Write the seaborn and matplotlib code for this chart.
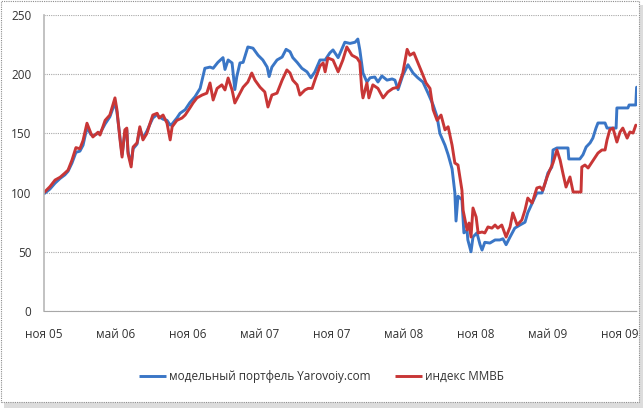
import matplotlib
matplotlib.use("Agg")
import matplotlib.pyplot as plt
from matplotlib.patches import Rectangle
from matplotlib.lines import Line2D
import pandas as pd
import seaborn as sns

# ---------------- data ----------------
start_date = "2005-11-01"

series_names = ["модельный портфель Yarovoiy.com", "индекс ММВБ"]

blue_days = [0, 15, 28, 41, 53, 61, 71, 81, 91, 99, 109, 119, 124, 137, 142, 155, 167, 180, 185, 193,
             198, 205, 210, 213, 221, 226, 236, 243, 251, 261, 269, 276, 287, 292, 302, 312, 320, 325,
             337, 345, 358, 370, 383, 396, 408, 421, 429, 441, 454, 459, 467, 477, 484, 489, 497, 505,
             517, 530, 543, 555, 566, 571, 578, 591, 604, 614, 624, 631, 642, 654, 667, 677, 687, 700,
             713, 725, 733, 746, 763, 776, 789, 796, 801, 809, 819, 827, 839, 847, 857, 870, 883, 890,
             898, 910, 923, 936, 948, 961, 974, 987, 997, 1004, 1017, 1025, 1035, 1042, 1045, 1050,
             1060, 1065, 1073, 1075, 1083, 1088, 1098, 1106, 1111, 1118, 1131, 1144, 1156, 1164, 1172,
             1182, 1194, 1207, 1220, 1227, 1238, 1250, 1263, 1271, 1278, 1288, 1291, 1301, 1329, 1331,
             1359, 1367, 1375, 1385, 1392, 1400, 1405, 1423, 1428, 1451, 1453, 1481, 1484, 1501, 1503]
blue_vals = [99, 103, 108, 112, 115, 118, 125, 134, 135, 140, 155, 149, 148, 150, 150, 158, 164, 176, 168, 146,
             132, 150, 153, 135, 124, 137, 141, 154, 146, 152, 158, 163, 166, 164, 162, 161, 157, 158,
             163, 167, 170, 176, 181, 188, 205, 206, 205, 210, 214, 204, 212, 209.5, 187, 198, 209.5, 210,
             223, 222, 216, 212, 206, 198, 206, 212, 214.5, 221, 219, 214, 210, 205, 202, 197, 202, 212,
             212, 218, 220.5, 214, 227, 226, 227, 229.7, 220.5, 201, 193.4, 197, 197.6, 193.4, 198.5, 195, 196, 195,
             187, 199, 208, 201, 197, 193.4, 184, 174, 164, 150, 140, 132, 120, 100, 76, 97,
             94, 66, 68, 60, 50, 62.5, 66, 56, 51.5, 58, 57.4, 60, 60, 61, 56,
             62.5, 70, 72.6, 75, 83, 91, 99.7, 99.7, 108, 116.5, 121.6, 136, 137.7, 137.7, 128.4,
             128.4, 132, 138.5, 142, 146, 154.5, 158.8, 158.8, 154.5, 154.5, 171.5, 171.5, 174, 174, 189]

red_days = [0, 15, 28, 41, 53, 61, 71, 81, 91, 99, 109, 119, 124, 137, 142, 155, 167, 180, 185, 193,
            198, 205, 210, 213, 221, 226, 236, 243, 251, 261, 269, 276, 287, 292, 302, 312, 320, 325,
            337, 350, 358, 370, 378, 388, 401, 413, 421, 429, 439, 451, 459, 467, 477, 484, 492, 505,
            517, 527, 535, 548, 560, 568, 578, 591, 604, 616, 624, 631, 642, 649, 662, 670, 680, 687,
            700, 708, 713, 720, 733, 746, 758, 768, 781, 794, 801, 806, 809, 819, 824, 834, 847, 860,
            872, 885, 898, 910, 921, 928, 938, 948, 959, 969, 979, 987, 997, 1007, 1017, 1025, 1035,
            1042, 1050, 1060, 1063, 1073, 1078, 1083, 1088, 1096, 1101, 1111, 1118, 1126, 1136, 1144,
            1151, 1161, 1172, 1182, 1189, 1200, 1212, 1220, 1227, 1238, 1250, 1258, 1265, 1276, 1283,
            1291, 1301, 1309, 1316, 1324, 1334, 1342, 1352, 1362, 1364, 1372, 1380, 1390, 1397, 1405,
            1415, 1423, 1428, 1435, 1443, 1453, 1461, 1468, 1479, 1486, 1494, 1501]
red_vals = [100, 105, 110.6, 113, 116.5, 119, 127.5, 138, 137, 144, 158.6, 150, 147, 151, 148.6, 161, 165.5, 180, 170, 144,
            130, 153, 154.5, 133, 121.7, 138.5, 142, 155.6, 144.5, 150, 158.6, 165.5, 167, 163, 165.5, 158.6, 144.5, 155.6,
            161, 163, 165.5, 171.5, 175.7, 180, 182.4, 184, 192.6, 178.2, 188, 191, 186.7, 196.8, 186.7, 175.7, 180.7, 189,
            193.4, 201, 195, 189, 185, 172.3, 182.4, 184, 195, 203.6, 201, 195, 191, 182.4, 186.7, 188, 188, 195,
            207, 209.5, 202, 213.7, 212, 202, 212, 223, 216, 213.7, 210, 186.7, 180, 192.6, 180, 191, 188, 180,
            185, 188, 189, 201, 221, 216, 218, 210, 201, 192.6, 188, 170, 161, 165.5, 153, 155.6, 140,
            125, 123.3, 102, 85, 68.4, 74.3, 62.5, 87, 79.4, 65.9, 66.7, 65.9, 71, 70, 72.6,
            70, 72.6, 62.5, 71, 82.8, 72.6, 76.9, 85.3, 95.4, 91.2, 103.9, 104.7, 102, 113.2, 119,
            125, 136, 127.5, 116.5, 104.7, 113.2, 100.5, 100.5, 100.5, 121.6, 123.3, 120.8, 125.8, 129.2, 133.4,
            136, 136, 144.5, 153, 154.5, 142.7, 151.2, 154.5, 146, 151.2, 150.3, 157]

tick_dates = ["2005-11-01", "2006-05-01", "2006-11-01", "2007-05-01", "2007-11-01",
              "2008-05-01", "2008-11-01", "2009-05-01", "2009-11-01"]
tick_labels = ["ноя 05", "май 06", "ноя 06", "май 07", "ноя 07", "май 08", "ноя 08", "май 09", "ноя 09"]
y_ticks = [0, 50, 100, 150, 200, 250]
end_days = 1504

colors = ["#3a76c6", "#c83636"]

# ---------------- build table ----------------
t0 = pd.Timestamp(start_date)
df = pd.concat([
    pd.DataFrame({"date": t0 + pd.to_timedelta(blue_days, unit="D"),
                  "value": blue_vals, "series": series_names[0]}),
    pd.DataFrame({"date": t0 + pd.to_timedelta(red_days, unit="D"),
                  "value": red_vals, "series": series_names[1]}),
], ignore_index=True)

# ---------------- style ----------------
sns.set_style("white")
plt.rcParams["font.family"] = ["Open Sans", "DejaVu Sans"]

W, H = 643, 408
fig = plt.figure(figsize=(W / 100, H / 100), dpi=100)
fig.patch.set_facecolor("white")

# frame with soft shadow
fig.patches.append(Rectangle((4 / W, 0), (W - 4) / W, 403 / H, transform=fig.transFigure,
                             facecolor="#dcdcdc", edgecolor="none", zorder=-3))
fig.patches.append(Rectangle((1 / W, 6 / H), 638 / W, 401 / H, transform=fig.transFigure,
                             facecolor="white", edgecolor="#8c8c8c", linestyle=(0, (1, 1)),
                             linewidth=0.8, zorder=-2))

ax = fig.add_axes([44 / W, (H - 311) / H, 593 / W, 296 / H])
ax.set_facecolor("none")

sns.lineplot(data=df, x="date", y="value", hue="series", palette=colors,
             hue_order=series_names, linewidth=2.1, estimator=None, sort=False,
             ax=ax, legend=False)

ax.set_xlim(t0, t0 + pd.Timedelta(days=end_days))
ax.set_ylim(0, 250)
ax.set_yticks(y_ticks)
ax.set_xticks(pd.to_datetime(tick_dates))
ax.set_xticklabels(tick_labels)
ax.set_xlabel("")
ax.set_ylabel("")

ax.yaxis.grid(True, color="#a8a8a8", linestyle=(0, (1, 1)), linewidth=0.8)
ax.xaxis.grid(False)
ax.set_axisbelow(True)
for s in ["top", "right"]:
    ax.spines[s].set_visible(False)
ax.spines["left"].set_color("#b8b8b8")
ax.spines["left"].set_linewidth(1.2)
ax.spines["bottom"].set_color("#a8a8a8")
ax.spines["bottom"].set_linestyle((0, (1, 1)))
ax.spines["bottom"].set_linewidth(0.8)

ax.tick_params(axis="both", direction="out", length=4, width=0.8, color="#a8a8a8",
               labelsize=8.5, labelcolor="#333333")
ax.tick_params(axis="y", pad=5)
ax.tick_params(axis="x", pad=8)

handles = [Line2D([], [], color=c, linewidth=2.1, solid_capstyle="butt") for c in colors]
leg = fig.legend(handles, series_names, loc="lower center", bbox_to_anchor=(0.5, 0.035),
                 ncol=2, frameon=False, fontsize=8.5, handlelength=2.3,
                 handletextpad=0.25, columnspacing=2.0, labelcolor="#333333")

fig.savefig("out.png", dpi=100)
